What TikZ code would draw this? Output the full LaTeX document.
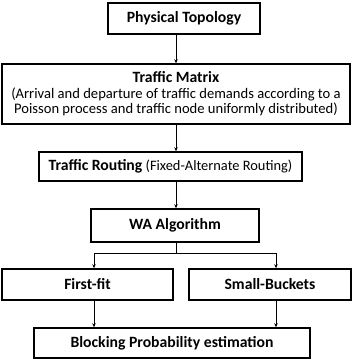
\documentclass[tikz,border=0pt]{standalone}
\usepackage{fontspec}
\setmainfont{Carlito}
\usetikzlibrary{arrows.meta}
\newcommand{\bt}[1]{{\fontsize{15.7}{15.5}\selectfont\bfseries #1}}
\begin{document}
\begin{tikzpicture}[x=1pt,y=-1pt,
  box/.style={draw, line width=1.4pt, inner sep=0pt, align=center, font=\fontsize{14.6}{15.5}\selectfont},
  arr/.style={-{Stealth[length=4pt,width=3.5pt]}, line width=0.8pt},
  ln/.style={line width=0.8pt}]
\useasboundingbox (0,0) rectangle (353,362);
\node[box, minimum width=152pt, minimum height=31pt] (pt) at (184,18.5) {\bt{Physical Topology}};
\node[box, minimum width=348pt, minimum height=60pt] (tm) at (176,94) {\bt{Traffic Matrix}\\(Arrival and departure of traffic demands according to a\\Poisson process and traffic node uniformly distributed)};
\node[box, minimum width=263pt, minimum height=29pt] (tr) at (170.5,166.5) {\bt{Traffic Routing} {\fontsize{14.4}{13}\selectfont(Fixed-Alternate Routing)}};
\node[box, minimum width=168pt, minimum height=33pt] (wa) at (175,225.5) {\bt{WA Algorithm}};
\node[box, minimum width=171pt, minimum height=31pt] (ff) at (87.5,284.5) {\bt{First-fit}};
\node[box, minimum width=162pt, minimum height=31pt] (sb) at (270,284.5) {\bt{Small-Buckets}};
\node[box, minimum width=276pt, minimum height=30pt] (bp) at (172,343) {\bt{Blocking Probability estimation}};
\coordinate (j) at (176,253);
\coordinate (jl) at (94,253);
\coordinate (jr) at (276,253);
\draw[arr] (pt.south -| j) -- (tm.north -| j);
\draw[arr] (tm.south -| j) -- (tr.north -| j);
\draw[arr] (tr.south -| j) -- (wa.north -| j);
\draw[ln] (wa.south -| j) -- (j);
\draw[ln] (jl) -- (jr);
\draw[arr] (jl) -- (ff.north -| jl);
\draw[arr] (jr) -- (sb.north -| jr);
\draw[arr] (ff.south -| jl) -- (bp.north -| jl);
\draw[arr] (sb.south -| jr) -- (bp.north -| jr);
\end{tikzpicture}
\end{document}
